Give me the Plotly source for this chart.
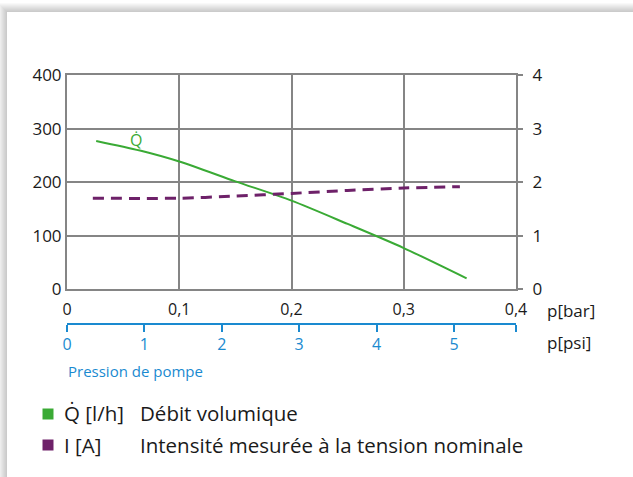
import plotly.graph_objects as go

# ---- data ----
q_p_bar = [0.026, 0.065, 0.10, 0.15, 0.20, 0.25, 0.30, 0.356]
q_flow = [277, 259, 238.5, 201.5, 165.5, 122, 77, 20.5]
i_p_bar = [0.023, 0.10, 0.15, 0.20, 0.25, 0.30, 0.35]
i_amp = [1.70, 1.70, 1.74, 1.79, 1.845, 1.89, 1.915]
bar_ticks = [0, 0.1, 0.2, 0.3, 0.4]
flow_ticks = [0, 100, 200, 300, 400]
amp_ticks = [0, 1, 2, 3, 4]
psi_ticks = [0, 1, 2, 3, 4, 5]
psi_max = 0.4 * 14.5038

GREEN = "#3aaa35"
PURPLE = "#6e2169"
BLUE = "#1a8ad0"
GRID = "#858585"
FONT = "Open Sans"

W, H = 633, 477
L, T = 67, 75
R = W - 516
BOT = 340
B = H - BOT
PH = BOT - T


def px(x):
    return (x - L) / (W - L - R)


def py(y):
    return (BOT - y) / PH


fig = go.Figure()
fig.add_trace(go.Scatter(x=q_p_bar, y=q_flow, mode="lines",
                         line=dict(color=GREEN, width=2, shape="spline", smoothing=0.8),
                         xaxis="x", yaxis="y", showlegend=False, hoverinfo="skip"))
fig.add_trace(go.Scatter(x=i_p_bar, y=i_amp, mode="lines",
                         line=dict(color=PURPLE, width=3, dash="11px,7px", shape="spline", smoothing=0.8),
                         xaxis="x", yaxis="y2", showlegend=False, hoverinfo="skip"))
# invisible trace to activate psi axis
fig.add_trace(go.Scatter(x=[0, psi_max], y=[None, None], xaxis="x2", yaxis="y", showlegend=False,
                         hoverinfo="skip"))

ydom0 = py(289.3)
fig.update_layout(
    width=W, height=H,
    margin=dict(l=L, r=R, t=T, b=B),
    paper_bgcolor="white", plot_bgcolor="rgba(0,0,0,0)",
    separators=",.",
    font=dict(family=FONT, size=16, color="#1a1a1a"),
    xaxis=dict(range=[0, 0.4], tickvals=bar_ticks, showgrid=True, gridcolor=GRID, gridwidth=2,
               showline=True, linecolor=GRID, linewidth=2, mirror=True, zeroline=False,
               ticks="", ticklen=0, ticklabelstandoff=4, anchor="y", tickfont=dict(size=16)),
    xaxis2=dict(range=[0, psi_max], overlaying="x", anchor="free", position=py(324), side="bottom",
                tickvals=psi_ticks + [psi_max], ticktext=[str(v) for v in psi_ticks] + [""],
                showgrid=False, zeroline=False, showline=True, linecolor=BLUE, linewidth=2,
                ticks="outside", ticklen=7, tickwidth=2, tickcolor=BLUE,
                tickfont=dict(color=BLUE, size=16), ticklabelstandoff=-1),
    yaxis=dict(range=[0, 400], tickvals=flow_ticks, domain=[ydom0, 1], showgrid=True, gridcolor=GRID,
               gridwidth=2, showline=True, linecolor=GRID, linewidth=2, mirror=True, zeroline=False,
               ticks="", ticklen=0, ticklabelstandoff=0, tickfont=dict(size=17)),
    yaxis2=dict(range=[0, 4], tickvals=amp_ticks, overlaying="y", side="right", showgrid=False,
                zeroline=False, ticks="outside", ticklen=6, tickwidth=2, tickcolor=GRID,
                ticklabelstandoff=6, tickfont=dict(size=17)),
)

shapes = []
# card shadow + card
for k in range(9, 0, -1):
    shapes.append(dict(type="rect", xref="paper", yref="paper", layer="below",
                       x0=px(7 - k), x1=px(720), y0=py(560), y1=py(12 - k),
                       fillcolor="rgba(0,0,0,0.022)", line=dict(width=0)))
shapes.append(dict(type="rect", xref="paper", yref="paper", layer="below",
                   x0=px(7), x1=px(720), y0=py(560), y1=py(12),
                   fillcolor="white", line=dict(width=0)))
# legend keys
for cy, col in [(414, GREEN), (445, PURPLE)]:
    shapes.append(dict(type="rect", xref="paper", yref="paper",
                       x0=px(42.5), x1=px(53.5), y0=py(cy + 5.5), y1=py(cy - 5.5),
                       fillcolor=col, line=dict(width=0)))
fig.update_layout(shapes=shapes)

ann = [
    dict(text="p[bar]", x=px(545), y=py(310), xanchor="left", yanchor="middle", font=dict(size=17)),
    dict(text="p[psi]", x=px(545), y=py(342), xanchor="left", yanchor="middle", font=dict(size=17)),
    dict(text="Pression de pompe", x=px(66), y=py(371), xanchor="left", yanchor="middle",
         font=dict(color=BLUE, size=15)),
    dict(text="Q̇ [l/h]", x=px(62), y=py(413), xanchor="left", yanchor="middle", font=dict(size=20.5)),
    dict(text="Débit volumique", x=px(138), y=py(413), xanchor="left", yanchor="middle",
         font=dict(size=20.5)),
    dict(text="I [A]", x=px(62), y=py(445), xanchor="left", yanchor="middle", font=dict(size=20.5)),
    dict(text="Intensité mesurée à la tension nominale", x=px(138), y=py(445), xanchor="left",
         yanchor="middle", font=dict(size=20.5)),
]
for a in ann:
    a.update(xref="paper", yref="paper", showarrow=False)
ann.append(dict(text="Q̇", x=0.0613, y=279, xref="x", yref="y", showarrow=False,
                font=dict(color=GREEN, size=16)))
fig.update_layout(annotations=ann)

fig.write_html("out.html", config={"displayModeBar": False},
               post_script="document.body.style.margin='0';")
